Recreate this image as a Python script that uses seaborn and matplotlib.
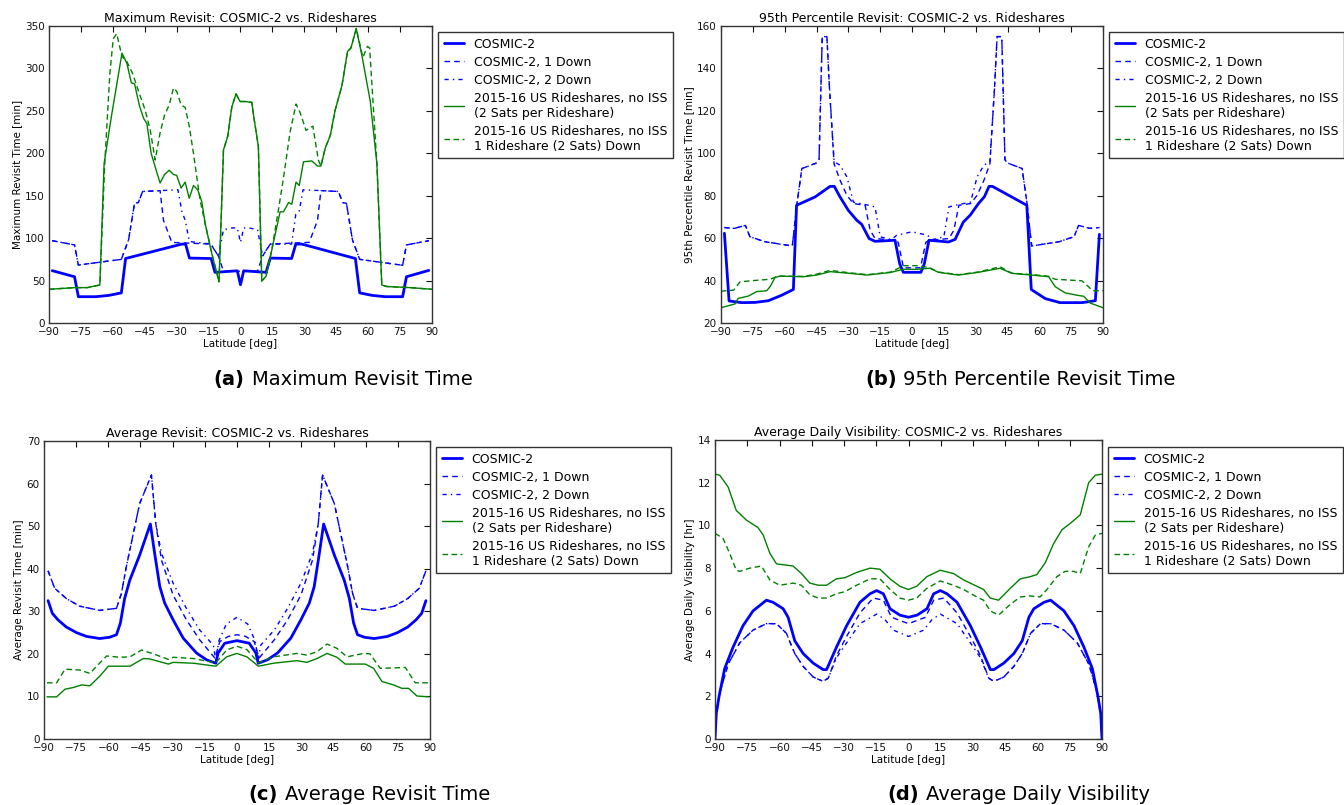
import matplotlib
matplotlib.use("Agg")
import matplotlib.pyplot as plt
import seaborn as sns

# ---- (a) Maximum revisit [min] ----
max_c2_lat = [-88.5, -78, -76.2, -68, -62, -56, -54, -27.6, -25.8, -24, -13.8, -12, -1.5, 0, 1.5,
              12, 14, 24, 26, 28.8, 54, 56, 62, 68, 76.2, 78, 88.5]
max_c2_val = [61.7, 54.5, 31, 31, 32.5, 35.5, 76, 93, 93, 76.5, 76, 59.7, 61.5, 45, 61.5,
              59.7, 76.5, 76, 93, 93, 76, 35.5, 32.5, 31, 31, 54.5, 62]
max_d1_lat = [-88.5, -78, -76.2, -56, -52.6, -49.8, -48, -46, -37.8, -36.2, -32.3, -14, -10.4, -8,
              8, 10.4, 14, 32.3, 36.2, 37.8, 46, 48, 49.8, 52.6, 56, 76.2, 78, 88.5]
max_d1_val = [97, 92, 68.3, 75, 98, 141, 142, 155, 156, 121, 95, 93, 79, 61,
              61, 79, 93, 95, 121, 156, 155, 142, 141, 98, 75, 68, 92, 97]
max_d2_lat = [-88.5, -78, -76.2, -56, -52.6, -49.8, -48, -46, -29.4, -27.6, -26, -24, -13.8, -10.4,
              -8, -4, -1.5, 0, 1.5, 4, 8, 10.4, 13.8, 24, 26, 27.6, 29.4, 46, 48, 49.8, 52.6, 56,
              76.2, 78, 88.5]
max_d2_val = [97, 92, 68.3, 75, 98, 141, 142, 155, 157, 132, 121, 96, 93, 78.6,
              110, 112, 112, 95, 112, 112, 110, 78.6, 93, 93, 128, 132, 157, 155, 142, 141, 98, 75,
              68, 92, 97]
max_g1_lat = [-90, -78, -72, -66.1, -64.1, -60.7, -55.7, -53.4, -51.3, -49.8, -47.5, -45.5, -44, -42,
              -40.1, -37.8, -35.7, -33.5, -31.5, -30, -27.9, -26, -24.1, -22.1, -20.1, -18.2, -16.6,
              -13.5, -10.1, -8, -6, -4.1, -2.1, -0.2, 2.1, 5.3, 6.3, 8.4, 10, 12, 14.7, 18.6, 20.2,
              22.6, 24.1, 26.1, 27.6, 29.6, 33.5, 36.2, 37.8, 39.8, 42.2, 44.5, 47.7, 50.3, 51.9,
              54.4, 57, 61, 64.1, 66.4, 68.7, 79.7, 90]
max_g1_val = [39.7, 41.7, 41.7, 44.8, 188, 243, 318, 306, 283, 282, 256, 241, 235, 200,
              184, 165, 175, 180, 175, 174, 159, 166, 147, 162, 157, 143, 117,
              82, 48.6, 204, 220, 254.5, 270, 261, 261, 260, 242, 208, 49.5, 55, 86, 131, 131,
              142, 140, 166, 162, 190, 191, 185, 185, 206, 221, 251, 280, 320, 324,
              347, 316, 261, 188, 44.8, 43, 41.7, 39.7]
max_g2_lat = [-90, -78, -72, -66.1, -63.8, -61.4, -59.8, -58.2, -55.7, -53.4, -50.7, -47.9, -44.8,
              -42.4, -40.1, -37.8, -35.7, -33.5, -31.5, -30, -27.9, -26, -24.1, -22.1, -20.6, -19,
              -16.6, -13.5, -10.1, -8, -6, -4.1, -2.1, -0.2, 2.1, 5.3, 6.3, 8.4, 10, 12, 14.7, 17.8,
              20.2, 23.3, 26.1, 28, 30.8, 34, 36.6, 37.8, 39.8, 42.2, 44.5, 47.7, 50.3, 51.9, 54.4,
              57.5, 59.7, 60.7, 64.1, 66.4, 68.7, 79.7, 90]
max_g2_val = [39.7, 41.7, 41.7, 44.8, 188, 294, 335, 341, 314, 308, 294, 273, 251,
              227, 192, 224, 245, 257, 277, 273, 257, 254, 232, 200, 173, 145,
              117, 82, 48.6, 204, 220, 254.5, 270, 261, 261, 260, 242, 208, 49.5, 55, 86, 133,
              171, 225, 258, 248, 227, 232, 192, 185, 206, 221, 251, 280, 320, 324, 347,
              313, 326, 324, 188, 44.8, 43, 41.7, 39.7]

# ---- (b) 95th percentile revisit [min] ----
p95_c2_lat = [-88.4, -86.2, -80.3, -74, -67.7, -61.4, -55.9, -54.4, -45.7, -38.6, -36.6, -33.9, -30,
              -26, -23.7, -20.2, -17.4, -8, -5.8, -4.1, 4.2, 5.8, 8, 17.2, 20.3, 24.2, 27.4, 31.3,
              34.1, 36.3, 37.9, 54.1, 56.2, 62.8, 69.8, 80.1, 86.4, 88.3]
p95_c2_val = [62.3, 30.4, 29.6, 29.7, 30.5, 33.1, 35.8, 75.5, 79.4, 84.4, 84.4, 79.4, 73.1,
              68.4, 66.5, 59.8, 58.5, 59, 47.9, 43.9, 43.9, 47.9, 59, 58.2, 59.4, 67.6, 70.8, 76.3,
              79.5, 84.4, 84.4, 75.5, 35.8, 31.5, 29.6, 29.6, 30.5, 61.8]
p95_d1_lat = [-88.4, -83.7, -78.5, -76.4, -69.3, -56.4, -54.2, -51.9, -44.8, -43.8, -42.3, -40.1,
              -38.9, -36.7, -33.9, -30.7, -27.6, -22.1, -19.7, -17.4, -8, -6.5, -4, 4, 6.5, 8, 17.4,
              19.7, 22.1, 27.6, 30.7, 33.9, 36.7, 38.9, 40.1, 42.3, 43.8, 44.8, 51.9, 54.2, 56.4,
              69.3, 76.4, 78.5, 83.7, 88.4]
p95_d1_val = [65, 64.6, 66, 60.7, 58.3, 56.3, 76.3, 92.8, 95.5, 97, 155, 155,
              131, 95, 87.3, 80.2, 76.3, 75.5, 63.7, 59.8, 59, 58, 46, 46, 58, 59, 59.8,
              63.7, 75.5, 76.3, 80.2, 87.3, 95, 131, 155, 155, 97, 95.5, 92.8, 76.3, 56.3,
              58.3, 60.7, 66, 64.6, 65]
p95_d2_lat = [-88.4, -83.7, -78.5, -76.4, -69.3, -56.4, -54.2, -51.9, -44.8, -43.8, -42.3, -40.1,
              -38.9, -36.7, -33.9, -30.7, -27.6, -20.5, -17.4, -15, -9.6, -7.2, 0, 7.2, 9.6, 15,
              17.4, 20.5, 27.6, 30.7, 33.9, 36.7, 38.9, 40.1, 42.3, 43.8, 44.8, 51.9, 54.2, 56.4,
              69.3, 76.4, 78.5, 83.7, 88.4]
p95_d2_val = [65, 64.6, 66, 60.7, 58.3, 56.3, 76.3, 92.8, 95.5, 97, 155, 155,
              131, 96, 94.4, 88.9, 77, 75.5, 74.7, 60.6, 59.3, 61.4, 63, 61.4, 59.3, 60.6,
              74.7, 75.5, 77, 88.9, 94.4, 96, 131, 155, 155, 97, 95.5, 92.8, 76.3, 56.3,
              58.3, 60.7, 66, 64.6, 65]
p95_g1_lat = [-90, -83.4, -81.9, -77.1, -73.2, -68.5, -66.9, -64.5, -62.2, -51.2, -44.9, -38.6,
              -29.2, -21.3, -10.3, -4.1, 2.2, 8.5, 12.4, 21.9, 31.3, 41.5, 47, 56.5, 64.4, 67.5,
              72.2, 77.7, 80.9, 84, 90]
p95_g1_val = [27.2, 29, 31.6, 32.7, 34.8, 35.2, 37.1, 41.5, 42.1, 41.8, 42.6, 44.2,
              43.4, 42.6, 43.8, 45.3, 45.3, 45.8, 43.9, 42.6, 43.9, 45.8, 43.4, 42.6, 41.8, 37.1,
              34.2, 33.1, 32.6, 29.4, 27.2]
p95_g2_lat = [-90, -84, -81, -76, -67, -63, -51, -45, -38.6, -29, -21, -10, -4, 3, 8.5, 12.4, 22,
              31, 41.5, 47, 56.5, 64.4, 67.5, 80, 83.3, 85, 90]
p95_g2_val = [35, 35.5, 39.4, 39.9, 40.6, 42.1, 42, 43, 44.8, 43.6, 42.8, 44, 47, 47, 46, 44, 42.8,
              44, 46.5, 43.5, 42.8, 42, 40.6, 39.9, 37, 35.2, 35.2]

# ---- (c) Average revisit [min] ----
avg_c2_lat = [-88.1, -86.1, -83.5, -79.6, -74.9, -70.2, -64, -59.4, -56.2, -54.4, -52.4, -50, -45.4,
              -40.4, -38.4, -36, -33.7, -29.8, -25.1, -18.9, -14.2, -9.9, -8.8, -5.7, 0, 5.7, 8.8,
              9.9, 14.2, 18.9, 25.1, 29.8, 33.7, 36, 38.4, 40.4, 45.4, 50, 52.4, 54.4, 56.2, 59.4,
              64, 70.2, 74.9, 79.6, 83.5, 86.1, 88.1]
avg_c2_val = [32.5, 29.5, 28, 26.3, 25, 24.1, 23.6, 23.9, 24.5, 27.2, 33, 37.3, 43.2,
              50.5, 43.6, 35.8, 31.9, 28, 23.7, 20.2, 18.6, 17.8, 20.2, 22.5, 23.1, 22.5, 20.2,
              17.8, 18.6, 20.2, 23.7, 28, 31.9, 35.8, 43.6, 50.5, 43.2, 37.3, 33, 27.2, 24.5, 23.9,
              23.6, 24.1, 25, 26.3, 28, 29.5, 32.5]
avg_d1_lat = [-88.1, -85, -79.6, -73.4, -64, -56.2, -53.9, -51.6, -45.4, -39.9, -37.9, -35.2, -29.8,
              -23.6, -17.4, -10.3, -8, -4, 0, 4, 8, 10.3, 17.4, 23.6, 29.8, 35.2, 37.9, 39.9, 45.4,
              51.6, 53.9, 56.2, 64, 73.4, 79.6, 85, 88.1]
avg_d1_val = [39.5, 35.4, 33, 31.2, 30.2, 30.7, 34.2, 40.5, 55.3, 62, 50.6, 42, 33.8,
              28, 23.3, 19, 22.9, 24.1, 24.5, 24.1, 22.9, 19, 23.3, 28, 33.8, 42, 50.6, 62, 55.3,
              40.5, 34.2, 30.7, 30.2, 31.2, 33, 35.4, 39.5]
avg_d2_lat = [-88.1, -85, -79.6, -73.4, -64, -56.2, -53.9, -51.6, -45.4, -39.9, -37.9, -35.2, -29.8,
              -23.6, -17.4, -11, -9.9, -8.5, -5, 0, 5, 8.5, 9.9, 11, 17.4, 23.6, 29.8, 35.2, 37.9,
              39.9, 45.4, 51.6, 53.9, 56.2, 64, 73.4, 79.6, 85, 88.1]
avg_d2_val = [39.5, 35.4, 33, 31.2, 30.2, 30.7, 34.2, 40.5, 55.3, 62, 50.6, 43.6, 36.6,
              30.7, 25.6, 22, 18.5, 23, 27, 28.6, 27, 23, 18.5, 22, 25.6, 30.7, 36.6, 43.6, 50.6,
              62, 55.3, 40.5, 34.2, 30.7, 30.2, 31.2, 33, 35.4, 39.5]
avg_g1_lat = [-88.6, -84.1, -80.2, -76.3, -72.5, -68.6, -63.9, -60, -49.9, -43.7, -40.6, -32, -29.7,
              -20.3, -9.9, -4.8, -0.1, 4.6, 10, 17, 28, 32.6, 37.3, 42, 46.6, 50.5, 59.8, 63.7,
              67.6, 73, 76.9, 80, 83.9, 89.3]
avg_g1_val = [9.9, 9.9, 11.7, 12.1, 12.7, 12.5, 14.8, 17.1, 17.1, 18.9, 18.8, 17.6, 18,
              17.8, 17.1, 19.3, 20.1, 19.3, 17.1, 17.8, 18.4, 18, 18.9, 20.1, 19.2, 17.6, 17.6, 16.6,
              13.5, 12.7, 11.9, 11.9, 10.1, 9.9]
avg_g2_lat = [-88.6, -84.1, -80.2, -73.2, -68.6, -63.9, -60.8, -54.6, -49.9, -44.5, -39, -32, -29.7,
              -20.3, -9.9, -4.8, -0.1, 4.6, 10, 17, 28, 32.6, 37.3, 42, 46.6, 51.3, 59, 62, 66.8,
              78.5, 83.1, 89.3]
avg_g2_val = [13.2, 13.2, 16.4, 16.2, 15.4, 17.9, 19.5, 19.2, 19.3, 20.9, 20, 18.7, 19.2,
              18.9, 17.9, 20.9, 21.8, 21, 17.9, 19.3, 20.1, 19.7, 20.5, 22.3, 21.3, 19.3, 20.1, 20, 16.6,
              16.8, 13.2, 13.2]

# ---- (d) Average daily visibility [hr] ----
vis_c2_lat = [-90, -89.4, -88.1, -85.5, -81.6, -77, -72.3, -66.1, -63, -58.3, -56, -52.9, -49, -44.3,
              -39.7, -38.1, -33.5, -28.8, -22.6, -17.9, -14.8, -11.7, -8.6, -4, 0, 4, 8.6, 11.7,
              14.8, 17.9, 22.6, 28.8, 33.5, 38.1, 39.7, 44.3, 49, 52.9, 56, 58.3, 63, 66.1, 72.3,
              77, 81.6, 85.5, 88.1, 89.4, 90]
vis_c2_val = [0, 1.2, 2, 3.3, 4.3, 5.3, 6, 6.5, 6.4, 6.1, 5.7, 4.6, 4, 3.55,
              3.25, 3.25, 4.3, 5.3, 6.4, 6.8, 6.95, 6.8, 6.1, 5.8, 5.7, 5.8, 6.1, 6.8,
              6.95, 6.8, 6.4, 5.3, 4.3, 3.25, 3.25, 3.55, 4, 4.6, 5.7, 6.1, 6.4, 6.5, 6,
              5.3, 4.3, 3.3, 2, 1.2, 0]
vis_d1_lat = [-90, -89.4, -87.8, -83.9, -78.5, -72.3, -66.1, -61.4, -56.8, -52.9, -49, -44.3, -39.7,
              -37.3, -33.5, -28.8, -22.6, -16.4, -11.7, -7.9, 0, 7.9, 11.7, 16.4, 22.6, 28.8, 33.5,
              37.3, 39.7, 44.3, 49, 52.9, 56.8, 61.4, 66.1, 72.3, 78.5, 83.9, 87.8, 89.4, 90]
vis_d1_val = [0, 1.1, 2.15, 3.5, 4.5, 5.1, 5.4, 5.4, 4.95, 4, 3.4, 2.9, 2.7,
              2.85, 3.9, 4.8, 5.9, 6.6, 6.5, 5.7, 5.4, 5.7, 6.5, 6.6, 5.9, 4.8, 3.9,
              2.85, 2.7, 2.9, 3.4, 4, 4.95, 5.4, 5.4, 5.1, 4.5, 3.5, 2.15, 1.1, 0]
vis_d2_lat = [-90, -89.4, -87.8, -83.9, -78.5, -72.3, -66.1, -61.4, -56.8, -52.9, -49, -44.3, -39.7,
              -37.3, -33.5, -28.8, -22.6, -14.8, -11, -7.1, 0, 7.1, 11, 14.8, 22.6, 28.8, 33.5,
              37.3, 39.7, 44.3, 49, 52.9, 56.8, 61.4, 66.1, 72.3, 78.5, 83.9, 87.8, 89.4, 90]
vis_d2_val = [0, 1.1, 2.15, 3.5, 4.5, 5.1, 5.4, 5.4, 4.95, 4, 3.4, 2.9, 2.7,
              2.85, 3.8, 4.5, 5.4, 5.85, 5.6, 5.1, 4.8, 5.1, 5.6, 5.85, 5.4, 4.5, 3.8,
              2.85, 2.7, 2.9, 3.4, 4, 4.95, 5.4, 5.4, 5.1, 4.5, 3.5, 2.15, 1.1, 0]
vis_g1_lat = [-90, -87.8, -83.9, -80.1, -75.4, -70, -67.6, -64.5, -61.4, -57.5, -53.7, -49.8, -45.9,
              -42, -38.1, -33.5, -29.6, -24.1, -17.9, -13.3, -8.6, -4, -0.1, 3.8, 8.5, 14.7, 20.9,
              25.6, 31.8, 34.9, 38, 41.9, 47.3, 52, 56.6, 59.7, 63.6, 67.5, 71.4, 75.3, 79.9, 83.8,
              86.9, 90]
vis_g1_val = [12.4, 12.35, 11.8, 10.7, 10.25, 9.9, 9.55, 8.7, 8.2, 8.15, 8.1, 7.75, 7.3,
              7.2, 7.2, 7.5, 7.55, 7.8, 8, 7.95, 7.5, 7.15, 7.0, 7.15, 7.6, 7.9, 7.75,
              7.45, 7.15, 7.0, 6.6, 6.5, 7.05, 7.5, 7.6, 7.7, 8.25, 9.15, 9.8, 10.1, 10.5, 12,
              12.35, 12.4]
vis_g2_lat = [-90, -86.3, -83.2, -80.1, -78.5, -73.8, -68.4, -64.5, -59.9, -53.7, -49.8, -45.9, -42,
              -38.1, -33.5, -29.6, -24.1, -17.9, -13.3, -8.6, -4, -0.1, 3.8, 8.5, 14.7, 20.9, 25.6,
              31.8, 34.9, 38, 41.9, 47.3, 52, 56.6, 61.2, 64.4, 69, 72.9, 76.8, 79.9, 83.8, 86.9, 90]
vis_g2_val = [9.63, 9.4, 8.7, 7.9, 7.85, 8, 8.1, 7.45, 7.2, 7.3, 7.2, 6.75, 6.6,
              6.6, 6.8, 6.9, 7.2, 7.5, 7.5, 7.0, 6.6, 6.5, 6.6, 7.05, 7.4, 7.2, 7.0,
              6.65, 6.5, 6.0, 5.8, 6.3, 6.65, 6.7, 6.65, 7.0, 7.6, 7.85, 7.85, 7.75, 9.0, 9.55, 9.63]

labels = ["COSMIC-2", "COSMIC-2, 1 Down", "COSMIC-2, 2 Down",
          "2015-16 US Rideshares, no ISS\n(2 Sats per Rideshare)",
          "2015-16 US Rideshares, no ISS\n1 Rideshare (2 Sats) Down"]
xticks = list(range(-90, 91, 15))

sns.set_style("white")
plt.rcParams["font.family"] = ["DejaVu Sans"]
plt.rcParams["text.color"] = "black"
plt.rcParams["axes.labelcolor"] = "black"

styles = [
    dict(color="#0000ff", linewidth=2.0, linestyle="-"),
    dict(color="#0000ff", linewidth=1.0, linestyle=(0, (4, 3))),
    dict(color="#0000ff", linewidth=1.0, linestyle=(0, (3, 3, 1, 3))),
    dict(color="#008000", linewidth=1.0, linestyle="-"),
    dict(color="#008000", linewidth=1.0, linestyle=(0, (4, 2.5))),
]

W, H = 1344, 805
fig = plt.figure(figsize=(W / 100, H / 100), dpi=100)


def px_axes(l, t, r, b):
    return fig.add_axes([l / W, 1 - b / H, (r - l) / W, (b - t) / H])


panels = [
    dict(box=(49, 26, 432, 323), leg=(438, 32),
         title="Maximum Revisit: COSMIC-2 vs. Rideshares", ylabel="Maximum Revisit Time [min]",
         ylim=(0, 350), ystep=50,
         data=[(max_c2_lat, max_c2_val), (max_d1_lat, max_d1_val), (max_d2_lat, max_d2_val),
               (max_g1_lat, max_g1_val), (max_g2_lat, max_g2_val)]),
    dict(box=(721, 26, 1103, 323), leg=(1109, 32),
         title="95th Percentile Revisit: COSMIC-2 vs. Rideshares",
         ylabel="95th Percentile Revisit Time [min]", ylim=(20, 160), ystep=20,
         data=[(p95_c2_lat, p95_c2_val), (p95_d1_lat, p95_d1_val), (p95_d2_lat, p95_d2_val),
               (p95_g1_lat, p95_g1_val), (p95_g2_lat, p95_g2_val)]),
    dict(box=(44, 441, 430, 739), leg=(436, 447),
         title="Average Revisit: COSMIC-2 vs. Rideshares", ylabel="Average Revisit Time [min]",
         ylim=(0, 70), ystep=10,
         data=[(avg_c2_lat, avg_c2_val), (avg_d1_lat, avg_d1_val), (avg_d2_lat, avg_d2_val),
               (avg_g1_lat, avg_g1_val), (avg_g2_lat, avg_g2_val)]),
    dict(box=(715, 440, 1102, 739), leg=(1108, 447),
         title="Average Daily Visibility: COSMIC-2 vs. Rideshares",
         ylabel="Average Daily Visibility [hr]", ylim=(0, 14), ystep=2,
         data=[(vis_c2_lat, vis_c2_val), (vis_d1_lat, vis_d1_val), (vis_d2_lat, vis_d2_val),
               (vis_g1_lat, vis_g1_val), (vis_g2_lat, vis_g2_val)]),
]

for p in panels:
    ax = px_axes(*p["box"])
    for (lat, val), lab, st in zip(p["data"], labels, styles):
        sns.lineplot(x=lat, y=val, ax=ax, label=lab, estimator=None, sort=False, **st)
    ax.set_xlim(-90, 90)
    ax.set_ylim(*p["ylim"])
    ax.set_xticks(xticks)
    ax.set_yticks(range(p["ylim"][0], p["ylim"][1] + 1, p["ystep"]))
    ax.tick_params(direction="in", top=True, right=True, length=4, width=0.8,
                   labelsize=7.5, colors="#111111")
    ax.tick_params(axis="x", pad=3)
    ax.tick_params(axis="y", pad=3)
    for s in ax.spines.values():
        s.set_color("#333333")
        s.set_linewidth(1.0)
    ax.set_title(p["title"], fontsize=9, pad=3)
    ax.set_xlabel("Latitude [deg]", fontsize=7.5, labelpad=1)
    ax.set_ylabel(p["ylabel"], fontsize=7.5, labelpad=2)
    lx, ly = p["leg"]
    ax.legend(loc="upper left", bbox_to_anchor=(lx / W, 1 - ly / H), bbox_transform=fig.transFigure,
              fontsize=9, frameon=True, fancybox=False, edgecolor="#333333", framealpha=1,
              handlelength=1.6, borderaxespad=0, labelspacing=0.4, borderpad=0.45)

# sub-figure captions: bold tag + regular text
captions = [("(a)", "Maximum Revisit Time", 244, 252, 385),
            ("(b)", "95th Percentile Revisit Time", 897, 903, 385),
            ("(c)", "Average Revisit Time", 278, 285, 800),
            ("(d)", "Average Daily Visibility", 919, 926, 800)]
for tag, txt, xr, xl, yb in captions:
    fig.text(xr / W, 1 - yb / H, tag, ha="right", va="baseline", fontsize=14, fontweight="bold")
    fig.text(xl / W, 1 - yb / H, txt, ha="left", va="baseline", fontsize=14)

fig.savefig("out.png", dpi=100)
